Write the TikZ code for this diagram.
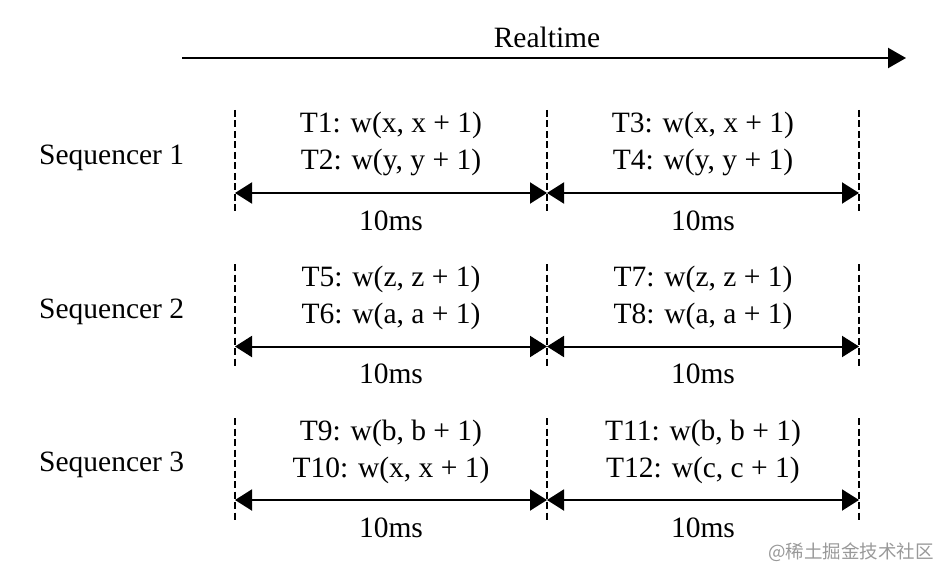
\documentclass[tikz,border=0pt]{standalone}
\usepackage{fontspec}
\setmainfont{Liberation Serif}
\newfontfamily\cjk{Noto Sans CJK SC}
\usetikzlibrary{arrows.meta}
\begin{document}
\begin{tikzpicture}[x=1pt,y=-1pt,
  lbl/.style={inner sep=0pt, font=\fontsize{29.5}{35}\selectfont, anchor=base},
  seqlbl/.style={lbl, anchor=base west},
  dline/.style={line width=1.4pt, dash pattern=on 7pt off 3.5pt},
  dur/.style={line width=2pt, {Triangle[length=17pt,width=21pt]}-{Triangle[length=17pt,width=21pt]}},
  timeline/.style={line width=2.2pt, -{Triangle[length=18pt,width=20pt]}},
  wmark/.style={inner sep=0pt, anchor=base west, text=black!40, font=\cjk\fontsize{18.5}{20}\selectfont}
]
\useasboundingbox (0,0) rectangle (950,580);

% realtime axis
\coordinate (rs) at (182,58);
\coordinate (re) at (906,58);
\draw[timeline] (rs) -- (re);
\node[lbl] (rt) at (547,48) {Realtime};

% row 1
\node[seqlbl] (seq1) at (39,165) {Sequencer 1};
\foreach \x [count=\k] in {235,547,859} {
  \coordinate (t1\k) at (\x,110);
  \coordinate (b1\k) at (\x,212);
  \coordinate (m1\k) at (\x,193);
  \draw[dline] (t1\k) -- (b1\k);
}
\draw[dur] (m11) -- (m12);
\draw[dur] (m12) -- (m13);
\node[lbl] (tA1) at (391,133) {T1: w(x, x + 1)};
\node[lbl] (tB1) at (391,170) {T2: w(y, y + 1)};
\node[lbl] (dA1) at (391,230) {10ms};
\node[lbl] (tC1) at (703,133) {T3: w(x, x + 1)};
\node[lbl] (tD1) at (703,170) {T4: w(y, y + 1)};
\node[lbl] (dB1) at (703,230) {10ms};

% row 2
\node[seqlbl] (seq2) at (39,318) {Sequencer 2};
\foreach \x [count=\k] in {235,547,859} {
  \coordinate (t2\k) at (\x,264);
  \coordinate (b2\k) at (\x,366);
  \coordinate (m2\k) at (\x,346.5);
  \draw[dline] (t2\k) -- (b2\k);
}
\draw[dur] (m21) -- (m22);
\draw[dur] (m22) -- (m23);
\node[lbl] (tA2) at (391,286.5) {T5: w(z, z + 1)};
\node[lbl] (tB2) at (391,323.5) {T6: w(a, a + 1)};
\node[lbl] (dA2) at (391,383.5) {10ms};
\node[lbl] (tC2) at (703,286.5) {T7: w(z, z + 1)};
\node[lbl] (tD2) at (703,323.5) {T8: w(a, a + 1)};
\node[lbl] (dB2) at (703,383.5) {10ms};

% row 3
\node[seqlbl] (seq3) at (39,471) {Sequencer 3};
\foreach \x [count=\k] in {235,547,859} {
  \coordinate (t3\k) at (\x,418);
  \coordinate (b3\k) at (\x,520);
  \coordinate (m3\k) at (\x,500);
  \draw[dline] (t3\k) -- (b3\k);
}
\draw[dur] (m31) -- (m32);
\draw[dur] (m32) -- (m33);
\node[lbl] (tA3) at (391,440) {T9: w(b, b + 1)};
\node[lbl] (tB3) at (391,477) {T10: w(x, x + 1)};
\node[lbl] (dA3) at (391,537) {10ms};
\node[lbl] (tC3) at (703,440) {T11: w(b, b + 1)};
\node[lbl] (tD3) at (703,477) {T12: w(c, c + 1)};
\node[lbl] (dB3) at (703,537) {10ms};

% watermark
\node[wmark] (wm) at (768,558) {@稀土掘金技术社区};
\end{tikzpicture}
\end{document}
